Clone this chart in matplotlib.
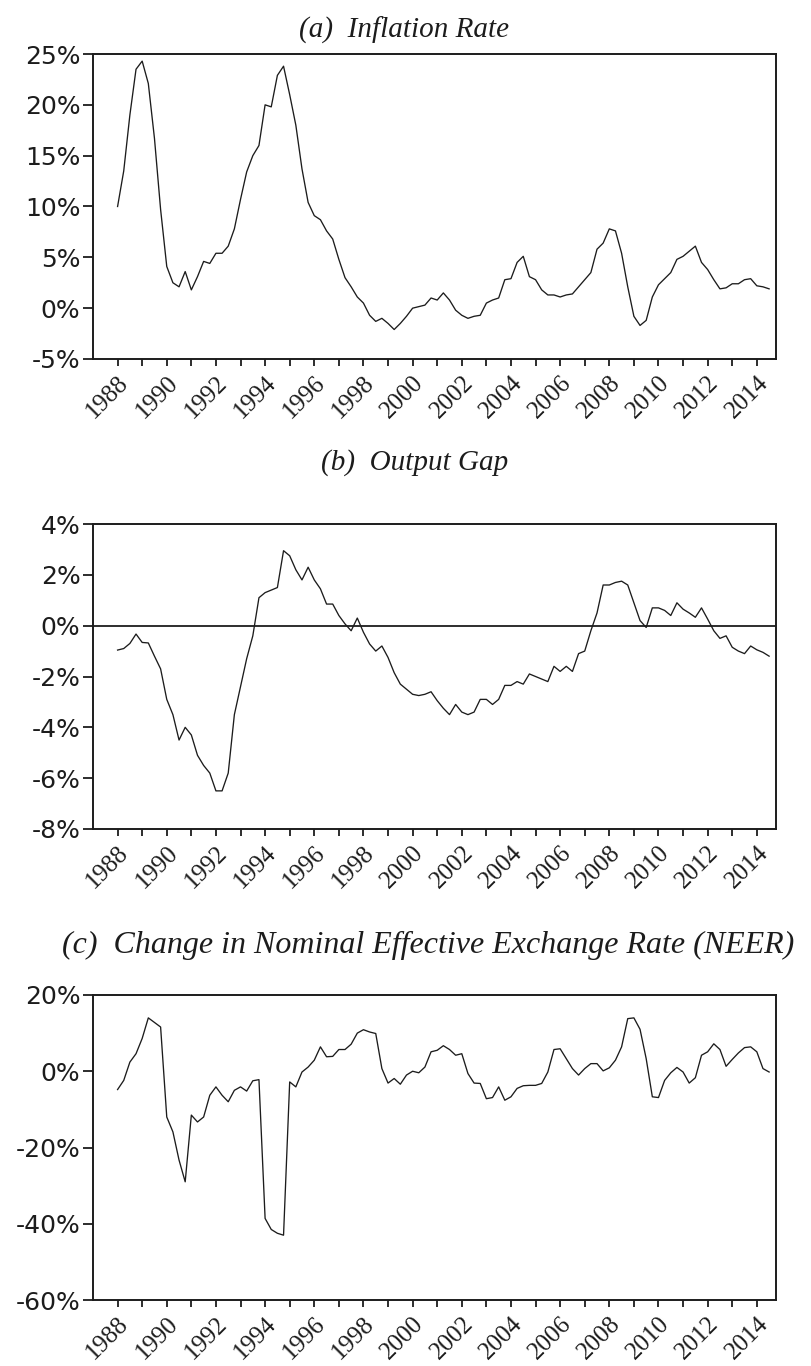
import matplotlib
matplotlib.use("Agg")
import matplotlib.pyplot as plt
import numpy as np
from matplotlib.ticker import FuncFormatter

# ---------------- data (quarterly, 1988Q1 - 2014Q3, in %) ----------------
start_year = 1988
inflation = [10.0, 13.5, 19.0, 23.5, 24.3, 22.1, 16.7, 9.7, 4.1, 2.5,
             2.1, 3.6, 1.8, 3.1, 4.6, 4.4, 5.4, 5.4, 6.1, 7.8,
             10.7, 13.4, 15.0, 16.0, 20.0, 19.8, 22.9, 23.8, 21.0, 18.0,
             13.7, 10.4, 9.1, 8.7, 7.6, 6.8, 4.8, 3.0, 2.1, 1.1,
             0.5, -0.7, -1.3, -1.0, -1.5, -2.1, -1.5, -0.8, 0.0, 0.15,
             0.3, 1.0, 0.8, 1.5, 0.8, -0.2, -0.7, -1.0, -0.8, -0.7,
             0.5, 0.8, 1.0, 2.8, 2.9, 4.5, 5.1, 3.1, 2.8, 1.8,
             1.3, 1.3, 1.1, 1.3, 1.4, 2.1, 2.8, 3.5, 5.8, 6.4,
             7.8, 7.6, 5.4, 2.1, -0.8, -1.7, -1.2, 1.1, 2.3, 2.9,
             3.5, 4.8, 5.1, 5.6, 6.1, 4.5, 3.8, 2.8, 1.9, 2.0,
             2.4, 2.4, 2.8, 2.9, 2.2, 2.1, 1.9]

output_gap = [-0.96, -0.9, -0.7, -0.33, -0.66, -0.68, -1.2, -1.7, -2.9, -3.5,
              -4.5, -4.0, -4.3, -5.1, -5.5, -5.8, -6.5, -6.5, -5.8, -3.5,
              -2.4, -1.3, -0.4, 1.1, 1.3, 1.4, 1.5, 2.95, 2.75, 2.2,
              1.8, 2.3, 1.8, 1.45, 0.85, 0.85, 0.4, 0.07, -0.2, 0.3,
              -0.26, -0.72, -1.0, -0.8, -1.25, -1.85, -2.3, -2.5, -2.7, -2.75,
              -2.7, -2.6, -2.95, -3.25, -3.5, -3.1, -3.4, -3.5, -3.4, -2.9,
              -2.9, -3.1, -2.9, -2.35, -2.35, -2.2, -2.3, -1.9, -2.0, -2.1,
              -2.2, -1.6, -1.8, -1.6, -1.8, -1.1, -1.0, -0.2, 0.5, 1.6,
              1.6, 1.7, 1.75, 1.6, 0.9, 0.2, -0.07, 0.7, 0.7, 0.6,
              0.4, 0.9, 0.65, 0.5, 0.33, 0.7, 0.26, -0.2, -0.5, -0.4,
              -0.85, -1.0, -1.1, -0.8, -0.95, -1.05, -1.2]

neer_change = [-4.8, -2.4, 2.4, 4.6, 8.6, 14.0, 12.8, 11.6, -12.0, -15.9,
               -23.3, -29.0, -11.5, -13.3, -12.0, -6.3, -4.1, -6.3, -8.0, -5.0,
               -4.1, -5.2, -2.5, -2.2, -38.6, -41.5, -42.5, -43.0, -2.8, -4.1,
               -0.2, 1.1, 2.9, 6.4, 3.8, 3.9, 5.7, 5.7, 7.1, 10.0,
               10.9, 10.3, 9.9, 0.7, -3.1, -1.9, -3.4, -1.0, 0.0, -0.4,
               1.1, 5.1, 5.5, 6.7, 5.7, 4.2, 4.6, -0.6, -3.1, -3.2,
               -7.2, -6.9, -4.1, -7.6, -6.7, -4.5, -3.8, -3.7, -3.7, -3.2,
               -0.2, 5.7, 5.9, 3.3, 0.7, -1.0, 0.7, 2.0, 2.0, 0.1,
               0.9, 2.9, 6.4, 13.8, 14.0, 11.0, 3.3, -6.7, -6.9, -2.4,
               -0.4, 1.0, -0.2, -3.1, -1.7, 4.2, 5.1, 7.2, 5.7, 1.3,
               3.1, 4.8, 6.2, 6.4, 5.1, 0.7, -0.2]

year_ticks = list(range(1988, 2015))
year_labels = [str(y) if y % 2 == 0 else "" for y in year_ticks]

titles = ["(a)  Inflation Rate",
          "(b)  Output Gap",
          "(c)  Change in Nominal Effective Exchange Rate (NEER)"]
y_limits = [(-5, 25), (-8, 4), (-60, 20)]
y_ticks = [list(range(-5, 26, 5)), list(range(-8, 5, 2)), list(range(-60, 21, 20))]

# ---------------- figure ----------------
plt.rcParams["axes.unicode_minus"] = False
W, H = 811, 1366
fig = plt.figure(figsize=(W / 100, H / 100), dpi=100)
fig.patch.set_facecolor("white")

# axes boxes in pixels: (left, top, right, bottom)
boxes = [(93, 54, 776, 359), (93, 524, 776, 829), (93, 995, 776, 1300)]
title_pos = [(404, 30), (415, 463), (428, 945)]
title_size = [21, 21, 23]
series = [inflation, output_gap, neer_change]

ink = "#1c1c1c"
for i, (box, data) in enumerate(zip(boxes, series)):
    l, t, r, b = box
    ax = fig.add_axes([l / W, 1 - b / H, (r - l) / W, (b - t) / H])
    x = start_year + np.arange(len(data)) / 4.0
    ax.plot(x, data, color=ink, lw=0.95)
    if i == 1:
        ax.axhline(0, color=ink, lw=1.3)
    ax.set_xlim(1987.0, 2014.78)
    ax.set_ylim(*y_limits[i])
    ax.set_yticks(y_ticks[i])
    ax.yaxis.set_major_formatter(FuncFormatter(lambda v, p: f"{v:.0f}%"))
    ax.set_xticks(year_ticks)
    ax.set_xticklabels(year_labels)
    for s in ax.spines.values():
        s.set_linewidth(1.4)
        s.set_color(ink)
    ax.tick_params(axis="y", direction="out", length=7, width=1.3, pad=2,
                   labelsize=18, colors=ink)
    ax.tick_params(axis="x", direction="out", length=5, width=1.3, pad=4,
                   labelsize=18, colors=ink)
    for lab in ax.get_yticklabels():
        lab.set_fontfamily("DejaVu Sans")
    for lab in ax.get_xticklabels():
        lab.set_fontfamily("Liberation Serif")
        lab.set_rotation(45)
        lab.set_ha("right")
        lab.set_va("top")
        lab.set_rotation_mode("anchor")
    tx, ty = title_pos[i]
    fig.text(tx / W, 1 - ty / H, titles[i], ha="center", va="center",
             fontfamily="Liberation Serif", style="italic",
             fontsize=title_size[i], color=ink)

fig.savefig("out.png", dpi=100, facecolor="white")
